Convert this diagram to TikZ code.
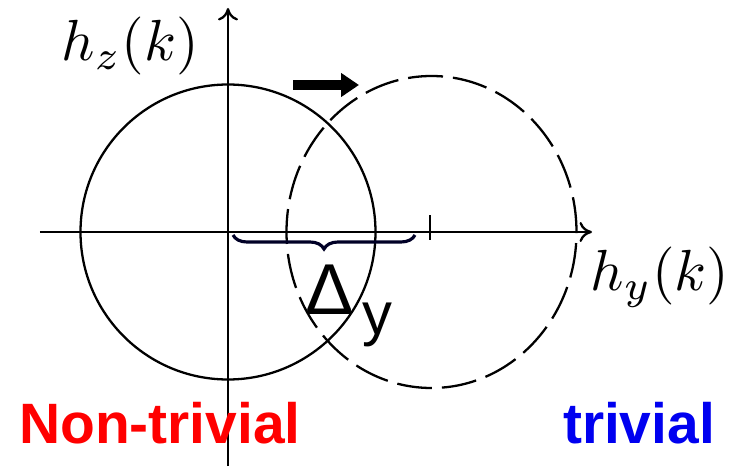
\documentclass[tikz,border=0pt]{standalone}
\usepackage{fontspec}
\newfontfamily\arialfont{Liberation Sans}
\usetikzlibrary{arrows.meta,decorations.pathreplacing}
\definecolor{ntred}{RGB}{255,0,0}
\definecolor{tblue}{RGB}{0,0,240}
\begin{document}
\begin{tikzpicture}[>={To[length=2.5mm,width=4mm]}, line width=1.3pt]
\useasboundingbox (-4.56,-4.68) rectangle (10.16,4.64);
    \draw[->] (-3.76,0)--(7.28,0);
    \draw[->] (0,-4.68)--(0,4.48);
\node[scale=3.3] (hz) at (-1.96,3.72){$h_z(k)$};
\node[scale=3.3] (hy) at (8.64,-0.9){$h_y(k)$};
\draw (0,0) circle (2.95);
\draw[dash pattern=on 0.7cm off 0.2cm] (4.07,0) ellipse (2.9 and 3.12);
\draw (4.04,0.34)--(4.04,-0.16);
% shift
\draw[line width=5.5pt,-{Triangle[length=0.36cm,width=0.46cm]}] (1.3,2.94)--(2.62,2.94);
\coordinate (bl) at (0.1,-0.06);
\coordinate (br) at (3.74,-0.06);
\draw[line width=1.8pt,color=black!85!blue,decorate,decoration={brace,mirror,amplitude=0.28cm}] (bl)--(br);
\node (delta) at (2.42,-1.48){\arialfont\fontsize{41}{41}\selectfont Δ\hspace{5pt}\raisebox{-11pt}{\fontsize{34}{34}\selectfont y}};

\node[anchor=base] (nontriv) at (-1.36,-4.22){\arialfont\bfseries\fontsize{32.4}{32.4}\selectfont\color{ntred}Non-trivial};
\node[anchor=base] (triv) at (8.22,-4.22){\arialfont\bfseries\fontsize{32.4}{32.4}\selectfont\color{tblue}trivial};
    \end{tikzpicture}
\end{document}
